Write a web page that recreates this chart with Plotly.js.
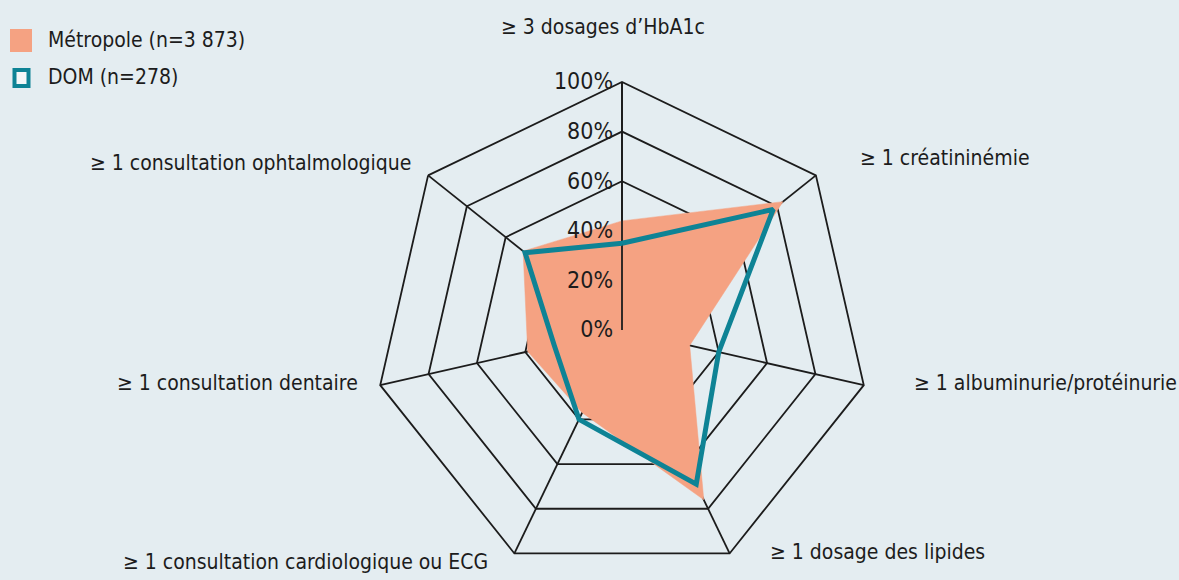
<!DOCTYPE html>
<html>
<head>
<meta charset="utf-8">
<script src="https://cdn.plot.ly/plotly-3.0.1.min.js"></script>
<style>html,body{margin:0;padding:0;background:#e4edf1;}#chart{width:1179px;height:580px;}</style>
</head>
<body>
<div id="chart"></div>
<script>
var categories = [
  "≥ 3 dosages d’HbA1c",
  "≥ 1 créatininémie",
  "≥ 1 albuminurie/protéinurie",
  "≥ 1 dosage des lipides",
  "≥ 1 consultation cardiologique ou ECG",
  "≥ 1 consultation dentaire",
  "≥ 1 consultation ophtalmologique"
];
var metropole = [44, 83, 28, 76, 37, 39, 51];
var dom = [35, 78, 40, 69, 40, 28, 50];
var radialTicks = [0, 20, 40, 60, 80, 100];
var radialTickText = ["0%", "20%", "40%", "60%", "80%", "100%"];
var seriesNames = ["Métropole (n=3 873)", "DOM (n=278)"];

var FONT = "'Liberation Sans Narrow', 'Arial Narrow', 'DejaVu Sans Condensed', sans-serif";
var W = 1179, H = 580;
function px(x){ return x / W; }
function py(y){ return 1 - y / H; }

var salmon = "#f5a282";
var teal = "#0e8395";
var ink = "#1c1c1c";

function closed(a){ return a.concat([a[0]]); }

var traces = [
  {
    type: "scatterpolar", subplot: "polar",
    r: closed(metropole), theta: closed(categories),
    fill: "toself", fillcolor: salmon, mode: "lines",
    line: {color: salmon, width: 0.5},
    name: seriesNames[0], showlegend: false, hoverinfo: "skip"
  },
  {
    type: "scatterpolar", subplot: "polar2",
    r: closed(dom), theta: closed(categories),
    mode: "lines", line: {color: teal, width: 5},
    name: seriesNames[1], showlegend: false, hoverinfo: "skip"
  }
];

var cx = 622, cy = 330, R = 248;
var domainX = [px(cx - R), px(cx + R)];
var domainY = [py(cy + R), py(cy - R)];

function angular(show){
  return {
    type: "category", categoryarray: categories, rotation: 90, direction: "clockwise",
    showticklabels: false, ticks: "",
    showline: show, linecolor: ink, linewidth: 1.8,
    showgrid: show, gridcolor: ink, gridwidth: 1.8,
    layer: "above traces"
  };
}

var layout = {
  width: W, height: H,
  margin: {l: 0, r: 0, t: 0, b: 0},
  paper_bgcolor: "#e4edf1",
  showlegend: false,
  font: {family: FONT, color: ink, size: 21},
  polar: {
    domain: {x: domainX, y: domainY},
    gridshape: "linear", bgcolor: "rgba(0,0,0,0)",
    angularaxis: angular(true),
    radialaxis: {
      range: [0, 100], angle: 90, side: "counterclockwise", tickangle: 90,
      tickvals: radialTicks, ticktext: radialTickText,
      tickfont: {family: FONT, size: 23, color: ink},
      showline: true, linecolor: ink, linewidth: 1.8,
      showgrid: true, gridcolor: ink, gridwidth: 1.8,
      ticks: "", layer: "above traces"
    }
  },
  polar2: {
    domain: {x: domainX, y: domainY},
    gridshape: "linear", bgcolor: "rgba(0,0,0,0)",
    angularaxis: angular(false),
    radialaxis: {range: [0, 100], visible: false, showgrid: false, showline: false, showticklabels: false}
  },
  shapes: [
    {type: "rect", xref: "paper", yref: "paper", x0: px(10), x1: px(32), y0: py(52), y1: py(29),
     fillcolor: salmon, line: {width: 0}},
    {type: "rect", xref: "paper", yref: "paper", x0: px(14.5), x1: px(28.5), y0: py(86), y1: py(70),
     fillcolor: "#f4f7f8", line: {color: teal, width: 4}}
  ],
  annotations: []
};

var legendLabels = [
  {t: seriesNames[0], x: 46, y: 40},
  {t: seriesNames[1], x: 46, y: 77}
];
legendLabels.forEach(function(l){
  layout.annotations.push({xref: "paper", yref: "paper", x: px(l.x), y: py(l.y), text: l.t,
    showarrow: false, xanchor: "left", yanchor: "middle", font: {family: FONT, size: 21, color: ink}});
});

var labelPos = [
  {x: 603, y: 27, a: "center"},
  {x: 858, y: 158, a: "left"},
  {x: 912, y: 383, a: "left"},
  {x: 768, y: 552, a: "left"},
  {x: 490, y: 562, a: "right"},
  {x: 360, y: 383, a: "right"},
  {x: 413, y: 163, a: "right"}
];
categories.forEach(function(c, i){
  var p = labelPos[i];
  layout.annotations.push({xref: "paper", yref: "paper", x: px(p.x), y: py(p.y), text: c,
    showarrow: false, xanchor: p.a, yanchor: "middle", font: {family: FONT, size: 21, color: ink}});
});

Plotly.newPlot("chart", traces, layout, {displayModeBar: false, staticPlot: true});
</script>
</body>
</html>
